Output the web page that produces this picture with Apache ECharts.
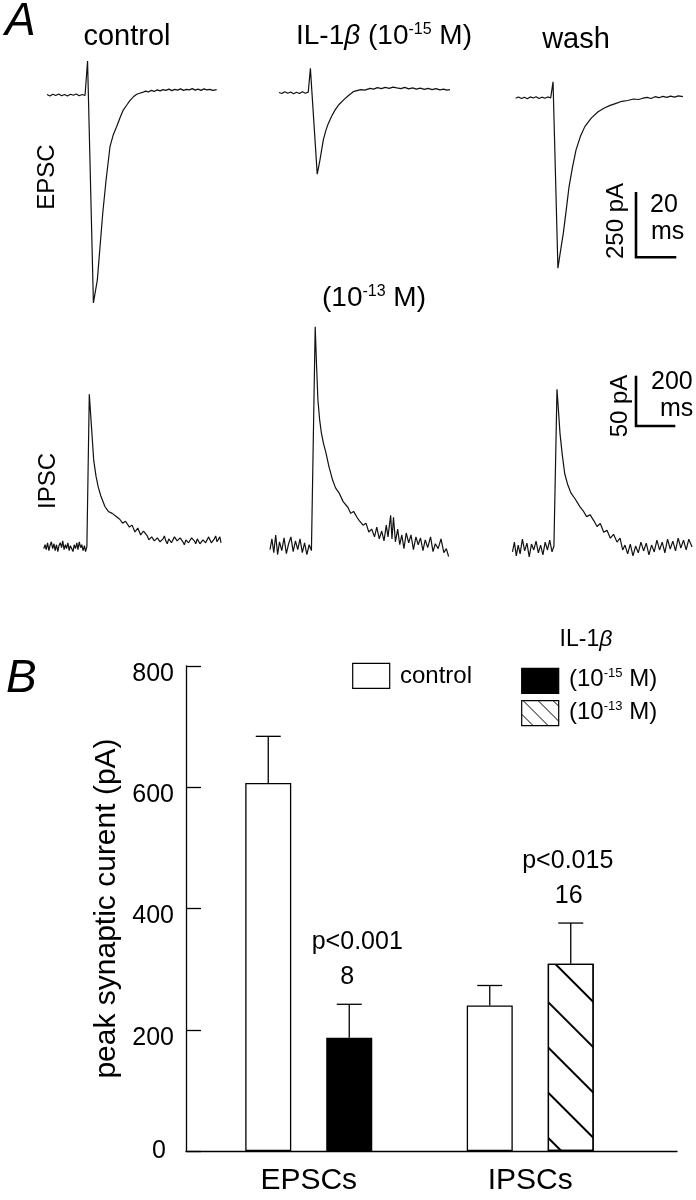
<!DOCTYPE html>
<html><head><meta charset="utf-8">
<script src="https://cdn.jsdelivr.net/npm/echarts@6/dist/echarts.min.js"></script>
<style>html,body{margin:0;padding:0;background:#fff}#chart{width:696px;height:1200px}</style>
</head><body><div id="chart"></div>
<script>
// ---------- Panel A traces: [time (ms), current (pA)] ----------
const epscControl = [
[0,2],[1.5,-4],[3,3],[4.5,-2],[6,4],[7.5,-3],[9,2],[10.5,-4],[12,3],[13.5,-1],[15,4],[16.5,-3],[18,2],[19.5,-2],[20.5,0],
[20.8,133],[23.8,-812],
[25.8,-723],[27.2,-592],[28.6,-461],[30.3,-332],[32.3,-202],[34,-155],[35.7,-124],[37.5,-88],[39.1,-59],[41,-38],[42.5,-22],[44.3,-7],[46,3],[47.5,7],[49,10],[50.5,15],[52,12],[53.5,18],[55,14],[56.5,20],[58,16],[59.5,21],[61,18],[62.5,23],[64,17],[65.5,22],[67,19],[68.5,24],[70,18],[71.5,22],[73,20],[74.5,25],[76,19],[77.5,23],[79,18],[80.5,24],[82,20],[83.5,22],[85,18],[87,21]
];
const epscIL15 = [
[0,1],[1.5,-3],[3,4],[4.5,-2],[6,3],[7.5,-4],[9,2],[10.5,-3],[12,4],[13.5,-2],[15,2],[15.9,0],
[16.1,95],[19.6,-318],
[21,-263],[22.7,-185],[24,-148],[25.3,-120],[27,-92],[28.7,-68],[30.8,-46],[33,-29],[35.5,-12],[38.1,4],[40,8],[42,12],[44,10],[46.7,17],[48.5,14],[50.5,20],[52.5,16],[54.5,21],[56.5,17],[58.5,22],[60.4,19],[62.5,16],[64.5,21],[66.5,15],[68.5,19],[70.5,14],[72.5,18],[74.5,13],[76.5,17],[78.5,12],[80.5,16],[82.5,11],[84.5,14],[86,10],[87.7,12]
];
const epscWash = [
[0,-2],[1.5,3],[3,-3],[4.5,2],[6,-4],[7.5,3],[9,-1],[10.5,4],[12,-3],[13.5,2],[15,-2],[16.5,3],[18,-1],[19,0],
[19.2,62],[21.7,-666],
[23,-600],[24.5,-528],[26,-436],[27.4,-348],[29.2,-270],[31,-204],[33.2,-152],[35.5,-113],[38.8,-80],[42.3,-55],[45.5,-40],[48.5,-30],[51.5,-22],[54.5,-14],[57.5,-11],[60.5,-5],[63,-7],[65.3,-2],[67.5,1],[69.5,-3],[71.5,4],[73.5,0],[75.5,5],[77.5,1],[79.5,6],[81.5,2],[83.5,7],[85.8,4]
];
const ipscControl = [
[0,-2],[7,2],[13,-3],[20,4],[27,-4],[33,1],[40,5],[47,-2],[54,3],[60,-4],[67,2],[74,-5],[80,1],[87,4],[94,-1],[100,6],[107,-3],[114,2],[120,-2],[127,4],[134,-4],[140,1],[147,3],[154,-5],[160,2],[167,-2],[174,4],[180,-3],[187,5],[194,-1],[200,2],[207,-4],[214,1],[220,-5],[227,0],
[239.7,155.5],[251.3,122],[263,88],[275,72],[286.6,61],[300,52],[321.8,41],[340,36],[360,34],[380,31],[400,28],[415,24],[430,26],[451,20],[465,22],[480,15],[495,19],[510,12],[525,16],[545,11],[553,7],[560,6],[568,10],[575,12],[582,6],[590,4],[598,9],[605,10],[612,5],[620,5],[628,8],[635,11],[642,6],[650,3],[658,8],[665,9],[672,4],[680,6],[688,10],[695,12],[702,6],[710,4],[718,9],[725,10],[732,5],[740,2],[748,7],[755,8],[762,4],[770,5],[778,9],[785,11],[792,6],[800,3],[808,8],[815,7],[822,3],[830,2],[838,7],[845,9],[852,4],[860,5],[868,10],[875,8],[882,4],[890,3],[898,8],[905,11],[912,5],[920,6],[927,10],[933,4]
];
const ipscIL13 = [
[0,-3],[10,8],[20,-6],[30,12],[40,-8],[50,5],[62,-4],[74,9],[86,-7],[98,3],[110,10],[122,-5],[134,6],[146,-3],[158,8],[170,-6],[182,4],[194,-8],[206,2],[218,-4],[223.7,-2],
[237.9,224.5],[245,185],[252.1,150],[261,130],[270.5,116],[282,105],[294.2,96],[310,82],[329.5,68],[345,60],[363.2,55],[385,46],[410.5,40],[425,34],[440,36],[457.9,30],[472,26],[490,22],[505,24],[520,15],[535,18],[550,10],[562,20],[575,8],[588,16],[600,6],[612,22],[621,10],[635,32],[642,8],[650,30],[660,5],[672,18],[683,2],[693.7,12],[705,-2],[717,14],[730,4],[742,12],[755,-3],[768,10],[780,2],[792,9],[805,-4],[817,7],[830,-1],[845,10],[858,-5],[870,3],[885,-2],[900,8],[915,-6],[928,-2],[940,-10]
];
const ipscWash = [
[0,-4],[10,6],[20,-8],[30,3],[40,-6],[52,9],[64,-3],[76,5],[88,-9],[100,4],[112,-2],[124,7],[136,-5],[148,3],[160,-7],[172,6],[184,-2],[196,8],[208,-4],[218,2],[223.7,0],
[234.2,162],[242,140],[250,117],[262,95],[274.7,76],[290,65],[307.9,56],[330,50],[355.3,42],[372,38],[390,32],[408,34],[427.6,28],[445,22],[462,25],[480,16],[497.4,18],[515,10],[532,14],[550,6],[566,10],[580,-2],[592,3],[606,-6],[620,4],[634,-8],[648,2],[662,-5],[676,6],[690,-3],[704,5],[718,-7],[732,3],[746,-4],[760,8],[774,-2],[788,6],[802,-5],[816,9],[830,-1],[844,7],[858,-3],[872,10],[886,0],[900,8],[914,-2],[928,9],[945,1]
];
// scale bars: [ms, pA]
const epscScaleBar = [20, 250];
const ipscScaleBar = [200, 50];

// ---------- Panel B ----------
const categories = ['EPSCs', 'IPSCs'];
const controlMean = [607, 240];
const controlSem = [77, 33];
const il1bMean = [187, 309];
const il1bSem = [55, 67];
const pValues = ['p<0.001', 'p<0.015'];
const nCells = ['8', '16'];
const yTickValues = [0, 200, 400, 600, 800];

// ---------- styling / layout ----------
const FONT = '"Liberation Sans", Arial, Helvetica, sans-serif';
const EPSC_PX_MS = 1.95, EPSC_PX_PA = 0.256;   // 20 ms = 39 px, 250 pA = 64 px
const IPSC_PX_MS = 0.19, IPSC_PX_PA = 0.98;    // 200 ms = 38 px, 50 pA = 49 px
const EPSC_X = [0, 90], EPSC_Y = [-850, 150];
const IPSC_X = [0, 950], IPSC_Y = [-30, 230];
const BAR_W = 46, BAR_GAP = 35;

function traceGrid(left, baseY, xr, yr, pxX, pxY) {
  return { left: left, top: baseY - yr[1] * pxY, width: (xr[1] - xr[0]) * pxX, height: (yr[1] - yr[0]) * pxY };
}
const grids = [
  traceGrid(47, 95, EPSC_X, EPSC_Y, EPSC_PX_MS, EPSC_PX_PA),
  traceGrid(279, 92.7, EPSC_X, EPSC_Y, EPSC_PX_MS, EPSC_PX_PA),
  traceGrid(515.6, 97.7, EPSC_X, EPSC_Y, EPSC_PX_MS, EPSC_PX_PA),
  traceGrid(636, 257.3, [0, epscScaleBar[0]], [0, epscScaleBar[1]], EPSC_PX_MS, EPSC_PX_PA),
  traceGrid(43.75, 546.7, IPSC_X, IPSC_Y, IPSC_PX_MS, IPSC_PX_PA),
  traceGrid(270, 546.7, IPSC_X, IPSC_Y, IPSC_PX_MS, IPSC_PX_PA),
  traceGrid(512.5, 548, IPSC_X, IPSC_Y, IPSC_PX_MS, IPSC_PX_PA),
  traceGrid(636, 426, [0, ipscScaleBar[0]], [0, ipscScaleBar[1]], IPSC_PX_MS, IPSC_PX_PA),
  { left: 186, right: 19, top: 666, bottom: 49 },
  { left: 198, right: 55, top: 666, bottom: 49 }
];
const ranges = [
  [EPSC_X, EPSC_Y], [EPSC_X, EPSC_Y], [EPSC_X, EPSC_Y], [[0, epscScaleBar[0]], [0, epscScaleBar[1]]],
  [IPSC_X, IPSC_Y], [IPSC_X, IPSC_Y], [IPSC_X, IPSC_Y], [[0, ipscScaleBar[0]], [0, ipscScaleBar[1]]]
];
const hiddenAxis = (gi, r) => ({ gridIndex: gi, type: 'value', min: r[0], max: r[1], show: false });
const xAxes = ranges.map((r, i) => hiddenAxis(i, r[0]));
const yAxes = ranges.map((r, i) => hiddenAxis(i, r[1]));
const blackLine = { color: '#000', width: 1.3 };
xAxes.push({ gridIndex: 8, type: 'value', min: 0, max: 1, axisLine: { show: true, lineStyle: blackLine },
  axisTick: { show: false }, axisLabel: { show: false }, splitLine: { show: false } });
xAxes.push({ gridIndex: 9, type: 'category', data: categories, axisLine: { show: false }, axisTick: { show: false },
  axisLabel: { fontSize: 30, fontFamily: FONT, color: '#000', margin: 15 } });
yAxes.push({ gridIndex: 8, type: 'value', min: yTickValues[0], max: yTickValues[yTickValues.length - 1],
  interval: yTickValues[1] - yTickValues[0],
  axisLine: { show: true, lineStyle: blackLine },
  axisTick: { show: true, inside: true, length: 15, lineStyle: blackLine },
  splitLine: { show: false },
  axisLabel: { margin: 12, formatter: v => v === 0 ? '{z|0}' : '{n|' + v + '}',
    rich: { n: { fontSize: 25, fontFamily: FONT, color: '#000', padding: [16, 0, 0, 0] },
            z: { fontSize: 25, fontFamily: FONT, color: '#000', padding: [0, 8, 0, 0] } } },
  name: 'peak synaptic curent (pA)', nameLocation: 'middle', nameGap: 64, nameRotate: 90,
  nameTextStyle: { fontSize: 30, fontFamily: FONT, color: '#000' } });
yAxes.push({ gridIndex: 9, type: 'value', min: 0, max: 800, show: false });

const traceStyle = { color: '#111', width: 1.2 };
function traceSeries(data, idx) {
  return { type: 'line', xAxisIndex: idx, yAxisIndex: idx, data: data, showSymbol: false, symbol: 'none',
    lineStyle: traceStyle, clip: false, silent: true };
}
function scaleBarSeries(bar, idx) {
  return { type: 'line', xAxisIndex: idx, yAxisIndex: idx, data: [[0, bar[1]], [0, 0], [bar[0], 0]],
    showSymbol: false, symbol: 'none', clip: false, lineStyle: { color: '#000', width: 2.6, cap: 'square', join: 'miter' } };
}

const hatchDecal = { symbol: 'rect', symbolSize: 1, color: '#000', dashArrayX: [1, 0], dashArrayY: [1.4, 29.6], rotation: Math.PI / 4 };
const barBorder = { borderColor: '#000', borderWidth: 1.3 };

const errorSeries = (means, sems, side) => ({
  type: 'custom', xAxisIndex: 9, yAxisIndex: 9, z: 5, silent: true,
  data: means.map((m, i) => [i, m, sems[i], side]),
  renderItem: function (params, api) {
    const p0 = api.coord([api.value(0), api.value(1)]);
    const p1 = api.coord([api.value(0), api.value(1) + api.value(2)]);
    const x = p0[0] + api.value(3) * (BAR_W + BAR_GAP) / 2;
    const st = { stroke: '#000', lineWidth: 1.3 };
    return { type: 'group', children: [
      { type: 'line', shape: { x1: x, y1: p0[1], x2: x, y2: p1[1] }, style: st },
      { type: 'line', shape: { x1: x - 12.5, y1: p1[1], x2: x + 12.5, y2: p1[1] }, style: st }
    ] };
  }
});
const pLabelDx = [8, -3];
const annotationSeries = {
  type: 'custom', xAxisIndex: 9, yAxisIndex: 9, z: 6, silent: true,
  data: il1bMean.map((m, i) => [i, m, il1bSem[i]]),
  renderItem: function (params, api) {
    const i = params.dataIndex;
    const p = api.coord([api.value(0), api.value(1) + api.value(2)]);
    const x = p[0] + (BAR_W + BAR_GAP) / 2;
    const ts = t => ({ text: t, fill: '#000', fontSize: 25, fontFamily: FONT, align: 'center', verticalAlign: 'middle', textAlign: 'center', textVerticalAlign: 'middle' });
    return { type: 'group', children: [
      { type: 'text', x: x - 2, y: p[1] - 27, style: ts(nCells[i]) },
      { type: 'text', x: x + pLabelDx[i], y: p[1] - 62, style: ts(pValues[i]) }
    ] };
  }
};

const series = [
  traceSeries(epscControl, 0), traceSeries(epscIL15, 1), traceSeries(epscWash, 2), scaleBarSeries(epscScaleBar, 3),
  traceSeries(ipscControl, 4), traceSeries(ipscIL13, 5), traceSeries(ipscWash, 6), scaleBarSeries(ipscScaleBar, 7),
  { type: 'bar', name: 'control', xAxisIndex: 9, yAxisIndex: 9, data: controlMean, barWidth: BAR_W,
    barGap: (BAR_GAP / BAR_W * 100).toFixed(1) + '%', itemStyle: Object.assign({ color: '#fff' }, barBorder) },
  { type: 'bar', name: 'IL-1β', xAxisIndex: 9, yAxisIndex: 9, barWidth: BAR_W,
    barGap: (BAR_GAP / BAR_W * 100).toFixed(1) + '%', itemStyle: barBorder,
    data: il1bMean.map((v, i) => ({ value: v, itemStyle: i === 0
      ? Object.assign({ color: '#000' }, barBorder)
      : Object.assign({ color: '#fff', decal: hatchDecal }, barBorder) })) },
  errorSeries(controlMean, controlSem, -1),
  errorSeries(il1bMean, il1bSem, 1),
  annotationSeries
];

// ---------- graphic texts & legend ----------
function txt(text, x, y, size, o) {
  o = o || {};
  const st = { text: text, fill: '#000', fontSize: size, fontFamily: FONT, fontStyle: o.italic ? 'italic' : 'normal',
    align: o.align || 'center', textAlign: o.align || 'center', verticalAlign: 'middle', textVerticalAlign: 'middle' };
  if (o.rich) st.rich = o.rich;
  return { type: 'text', x: x, y: y, rotation: o.rot || 0, style: st, silent: true };
}
function supRich(size, supSize) {
  return {
    b: { fontSize: size, fontFamily: FONT, fontStyle: 'italic', fill: '#000' },
    s: { fontSize: supSize, fontFamily: FONT, fill: '#000', verticalAlign: 'top', lineHeight: supSize }
  };
}
function hatchLines(x0, y0, w, h, spacing, phase) {
  const out = [];
  for (let c = phase - Math.ceil((phase + h) / spacing) * spacing; c < w; c += spacing) {
    let sx = Math.max(c, 0), sy = sx - c;
    if (sy > h) continue;
    const s = Math.min(w - sx, h - sy);
    if (s <= 0) continue;
    out.push({ type: 'line', shape: { x1: x0 + sx, y1: y0 + sy, x2: x0 + sx + s, y2: y0 + sy + s },
      style: { stroke: '#000', lineWidth: 1 }, silent: true });
  }
  return out;
}
const legendBox = (x, y, fill) => ({ type: 'rect', shape: { x: x, y: y, width: 37, height: 25 },
  style: { fill: fill, stroke: '#000', lineWidth: 1.2 }, silent: true });

const graphics = [
  txt('A', 5, 22, 46, { italic: true, align: 'left' }),
  txt('B', 6, 679, 46, { italic: true, align: 'left' }),
  txt('control', 127, 37, 29),
  txt('IL-1{b|β} (10{s|-15} M)', 384, 36, 28, { rich: supRich(28, 16) }),
  txt('wash', 576, 40, 29),
  txt('(10{s|-13} M)', 374, 298, 28, { rich: supRich(28, 16) }),
  txt('EPSC', 47.5, 177, 24, { rot: Math.PI / 2 }),
  txt('IPSC', 48, 481, 24, { rot: Math.PI / 2 }),
  txt('250 pA', 616, 221, 24, { rot: Math.PI / 2 }),
  txt('20', 650, 205, 25, { align: 'left' }),
  txt('ms', 651, 232, 25, { align: 'left' }),
  txt('50 pA', 620.5, 406, 24, { rot: Math.PI / 2 }),
  txt('200', 651, 382.5, 25, { align: 'left' }),
  txt('ms', 660, 409, 25, { align: 'left' }),
  // legend
  legendBox(352.7, 663.3, '#fff'),
  txt('control', 400, 676.5, 24, { align: 'left' }),
  txt('IL-1{b|β}', 586, 640, 23, { rich: supRich(23, 13) }),
  legendBox(521.7, 668.3, '#000'),
  txt('(10{s|-15} M)', 569, 679, 24, { align: 'left', rich: supRich(24, 13) }),
  legendBox(521.7, 700.7, '#fff')
].concat(hatchLines(521.7, 700.7, 37, 25, 15, 1.5)).concat([
  txt('(10{s|-13} M)', 569, 712, 24, { align: 'left', rich: supRich(24, 13) })
]);

const chart = echarts.init(document.getElementById('chart'), null, { renderer: 'canvas' });
chart.setOption({
  animation: false,
  backgroundColor: '#fff',
  grid: grids,
  xAxis: xAxes,
  yAxis: yAxes,
  series: series,
  graphic: { elements: graphics }
});
</script>
</body></html>
